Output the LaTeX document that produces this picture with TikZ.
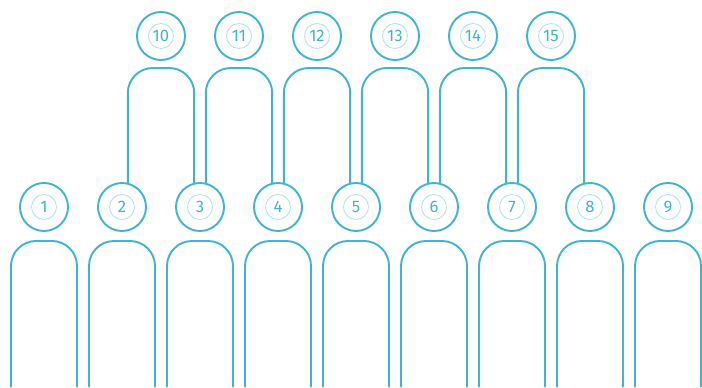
\documentclass[tikz,border=0pt]{standalone}
\usepackage{fontspec}
\setsansfont{Fira Sans}
\usepackage{tikz}
\usetikzlibrary{positioning,calc}
\definecolor{lineblue}{RGB}{66,180,210}
\definecolor{ringblue}{RGB}{178,226,240}

\begin{document}
\begin{tikzpicture}[
  font=\sffamily\fontsize{9.5}{11}\selectfont,
  seat/.style={draw=lineblue,circle,line width=1.1pt,minimum size=0.96cm,
               inner sep=0pt,outer sep=0pt,text=lineblue,
               path picture={\draw[ringblue,line width=0.5pt]
                 (path picture bounding box.center) circle (0.25cm);}},
  arch/.style={draw=lineblue,line width=1.1pt,rounded corners=0.5cm}]
\useasboundingbox (0,0) rectangle (14.04,-7.74);
% lower row
\node[seat] (c1) at (0.88,-4.14) {1};
\node[seat,right=0.6cm of c1] (c2) {2};
\node[seat,right=0.6cm of c2] (c3) {3};
\node[seat,right=0.6cm of c3] (c4) {4};
\node[seat,right=0.6cm of c4] (c5) {5};
\node[seat,right=0.6cm of c5] (c6) {6};
\node[seat,right=0.6cm of c6] (c7) {7};
\node[seat,right=0.6cm of c7] (c8) {8};
\node[seat,right=0.6cm of c8] (c9) {9};
% upper row
\node[seat] (t10) at ($(c2)!0.5!(c3)+(0,3.42)$) {10};
\node[seat,right=0.6cm of t10] (t11) {11};
\node[seat,right=0.6cm of t11] (t12) {12};
\node[seat,right=0.6cm of t12] (t13) {13};
\node[seat,right=0.6cm of t13] (t14) {14};
\node[seat,right=0.6cm of t14] (t15) {15};
% tops of the arches
\coordinate (a10) at ([yshift=-0.16cm]t10.south);
\coordinate (a11) at ([yshift=-0.16cm]t11.south);
\coordinate (a12) at ([yshift=-0.16cm]t12.south);
\coordinate (a13) at ([yshift=-0.16cm]t13.south);
\coordinate (a14) at ([yshift=-0.16cm]t14.south);
\coordinate (a15) at ([yshift=-0.16cm]t15.south);
% arches joining the lower seats
\draw[arch] (c2.76) -- (c2.76 |- a10) -- (c3.104 |- a10) -- (c3.104);
\draw[arch] (c3.76) -- (c3.76 |- a11) -- (c4.104 |- a11) -- (c4.104);
\draw[arch] (c4.76) -- (c4.76 |- a12) -- (c5.104 |- a12) -- (c5.104);
\draw[arch] (c5.76) -- (c5.76 |- a13) -- (c6.104 |- a13) -- (c6.104);
\draw[arch] (c6.76) -- (c6.76 |- a14) -- (c7.104 |- a14) -- (c7.104);
\draw[arch] (c7.76) -- (c7.76 |- a15) -- (c8.104 |- a15) -- (c8.104);
% open arches below
\coordinate (b1) at ([yshift=-0.2cm]c1.south);
\coordinate (b2) at ([yshift=-0.2cm]c2.south);
\coordinate (b3) at ([yshift=-0.2cm]c3.south);
\coordinate (b4) at ([yshift=-0.2cm]c4.south);
\coordinate (b5) at ([yshift=-0.2cm]c5.south);
\coordinate (b6) at ([yshift=-0.2cm]c6.south);
\coordinate (b7) at ([yshift=-0.2cm]c7.south);
\coordinate (b8) at ([yshift=-0.2cm]c8.south);
\coordinate (b9) at ([yshift=-0.2cm]c9.south);
\draw[arch] ([shift={(-0.66,-2.92)}]b1) -- ([xshift=-0.66cm]b1) -- ([xshift=0.66cm]b1) -- ([shift={(0.66,-2.92)}]b1);
\draw[arch] ([shift={(-0.66,-2.92)}]b2) -- ([xshift=-0.66cm]b2) -- ([xshift=0.66cm]b2) -- ([shift={(0.66,-2.92)}]b2);
\draw[arch] ([shift={(-0.66,-2.92)}]b3) -- ([xshift=-0.66cm]b3) -- ([xshift=0.66cm]b3) -- ([shift={(0.66,-2.92)}]b3);
\draw[arch] ([shift={(-0.66,-2.92)}]b4) -- ([xshift=-0.66cm]b4) -- ([xshift=0.66cm]b4) -- ([shift={(0.66,-2.92)}]b4);
\draw[arch] ([shift={(-0.66,-2.92)}]b5) -- ([xshift=-0.66cm]b5) -- ([xshift=0.66cm]b5) -- ([shift={(0.66,-2.92)}]b5);
\draw[arch] ([shift={(-0.66,-2.92)}]b6) -- ([xshift=-0.66cm]b6) -- ([xshift=0.66cm]b6) -- ([shift={(0.66,-2.92)}]b6);
\draw[arch] ([shift={(-0.66,-2.92)}]b7) -- ([xshift=-0.66cm]b7) -- ([xshift=0.66cm]b7) -- ([shift={(0.66,-2.92)}]b7);
\draw[arch] ([shift={(-0.66,-2.92)}]b8) -- ([xshift=-0.66cm]b8) -- ([xshift=0.66cm]b8) -- ([shift={(0.66,-2.92)}]b8);
\draw[arch] ([shift={(-0.66,-2.92)}]b9) -- ([xshift=-0.66cm]b9) -- ([xshift=0.66cm]b9) -- ([shift={(0.66,-2.92)}]b9);
\end{tikzpicture}
\end{document}
